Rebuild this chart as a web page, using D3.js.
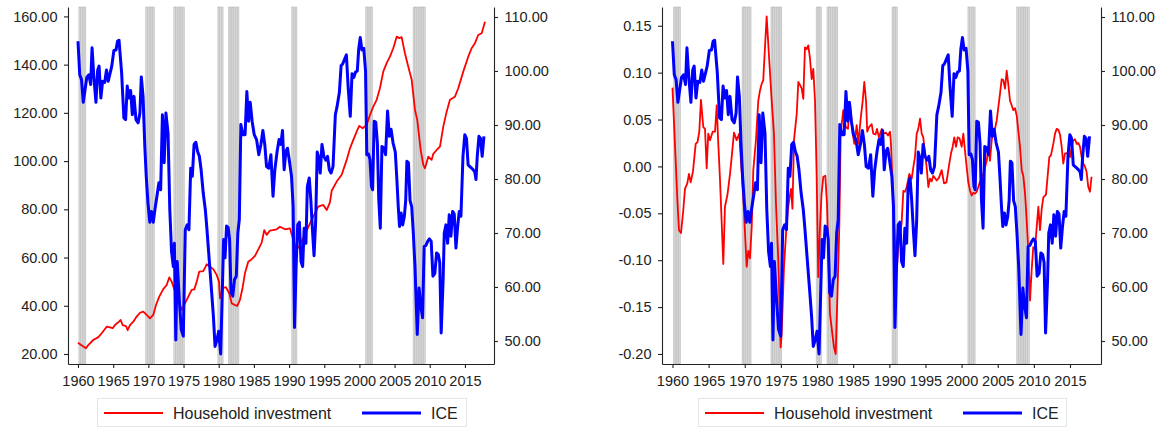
<!DOCTYPE html>
<html>
<head>
<meta charset="utf-8">
<title>Household investment and ICE</title>
<script src="https://cdn.jsdelivr.net/npm/d3@7"></script>
<style>
  html, body { margin: 0; padding: 0; background: #fff; }
  svg { display: block; }
  text { font-family: "Liberation Sans", Arial, Helvetica, sans-serif; fill: #222; }
</style>
</head>
<body>
<svg id="chart" width="1166" height="428"></svg>
<script>
// ---- data -------------------------------------------------------------

// Index of consumer expectations (right axis of both panels): [year, value]
const ice = [
  [1960.00,105.5],[1960.25,99.3],[1960.50,98.4],[1960.75,94.2],[1961.00,96.5],[1961.25,98.8],
  [1961.55,99.3],[1961.80,97.5],[1962.00,104.3],[1962.25,99.0],[1962.55,94.2],[1962.80,100.2],
  [1963.00,100.9],[1963.25,95.0],[1963.50,98.1],[1963.80,97.9],[1964.05,100.2],[1964.30,98.1],
  [1964.55,99.5],[1964.80,100.9],[1965.10,103.8],[1965.40,103.9],[1965.62,105.5],[1965.83,105.7],
  [1966.20,99.7],[1966.52,91.3],[1966.77,91.0],[1967.00,97.2],[1967.25,95.0],[1967.48,96.4],
  [1967.72,91.9],[1967.96,95.3],[1968.24,91.0],[1968.55,90.4],[1968.80,92.2],[1969.00,98.9],
  [1969.25,95.3],[1969.50,86.0],[1969.70,80.5],[1969.95,75.5],[1970.20,72.0],[1970.45,74.0],
  [1970.70,72.0],[1970.95,74.5],[1971.25,77.1],[1971.50,79.3],[1971.75,78.0],[1972.00,91.9],
  [1972.25,83.0],[1972.50,92.2],[1972.80,88.5],[1973.05,74.3],[1973.30,66.5],[1973.55,63.8],
  [1973.70,68.1],[1973.90,50.2],[1974.10,64.7],[1974.40,57.6],[1974.68,52.1],[1974.97,50.9],
  [1975.25,70.6],[1975.52,71.5],[1975.77,70.6],[1976.02,82.0],[1976.25,80.5],[1976.50,86.4],
  [1976.75,86.8],[1977.00,85.1],[1977.25,84.2],[1977.50,81.7],[1977.80,77.4],[1978.10,74.3],
  [1978.30,71.2],[1978.70,64.2],[1979.00,59.0],[1979.25,54.5],[1979.48,49.0],[1979.75,50.2],
  [1980.00,51.8],[1980.28,47.6],[1980.48,57.6],[1980.70,68.8],[1980.90,65.4],[1981.12,71.3],
  [1981.35,71.0],[1981.55,68.8],[1981.75,59.0],[1982.00,58.3],[1982.25,61.4],[1982.50,62.0],
  [1982.72,70.0],[1982.93,72.5],[1983.15,90.1],[1983.45,88.2],[1983.75,88.2],[1984.00,96.2],
  [1984.25,90.7],[1984.48,94.2],[1984.75,90.7],[1985.05,88.2],[1985.38,87.3],[1985.70,84.5],
  [1986.00,86.4],[1986.28,89.0],[1986.55,86.4],[1986.80,82.3],[1987.12,82.0],[1987.42,84.5],
  [1987.72,76.8],[1987.98,81.7],[1988.30,85.1],[1988.58,87.3],[1988.83,86.4],[1989.07,89.0],
  [1989.30,81.7],[1989.55,85.1],[1989.78,85.7],[1990.02,83.6],[1990.35,80.5],[1990.58,74.9],
  [1990.78,52.5],[1991.00,63.8],[1991.23,71.5],[1991.47,72.0],[1991.70,64.7],[1991.93,63.8],
  [1992.15,70.9],[1992.40,68.1],[1992.60,78.6],[1992.87,80.2],[1993.10,76.0],[1993.35,70.0],
  [1993.55,65.8],[1993.78,72.0],[1994.00,85.0],[1994.20,84.0],[1994.43,81.1],[1994.68,86.4],
  [1994.95,84.2],[1995.22,83.5],[1995.47,84.2],[1995.72,81.7],[1995.97,81.1],[1996.25,82.3],
  [1996.58,91.9],[1996.82,93.4],[1997.15,96.0],[1997.40,101.0],[1997.62,101.3],[1997.90,102.2],
  [1998.15,103.0],[1998.40,97.0],[1998.70,91.6],[1998.95,99.5],[1999.20,98.8],[1999.45,99.8],
  [1999.70,100.0],[1999.90,104.1],[2000.12,106.2],[2000.35,103.9],[2000.62,104.2],[2000.87,100.0],
  [2001.05,84.5],[2001.30,84.6],[2001.50,83.6],[2001.72,78.6],[2001.88,78.0],[2002.10,90.7],
  [2002.33,90.5],[2002.55,86.7],[2002.75,76.2],[2002.97,70.9],[2003.20,86.0],[2003.45,85.8],
  [2003.72,84.5],[2004.00,92.6],[2004.25,87.9],[2004.50,89.2],[2004.78,86.7],[2005.10,85.0],
  [2005.32,80.0],[2005.52,74.9],[2005.70,71.2],[2005.93,73.7],[2006.15,71.5],[2006.38,73.0],
  [2006.58,76.0],[2006.75,83.3],[2006.97,83.0],[2007.20,76.0],[2007.43,74.9],[2007.66,70.0],
  [2007.90,63.8],[2008.22,51.2],[2008.48,59.8],[2008.73,56.4],[2008.98,54.3],[2009.20,67.5],
  [2009.45,67.7],[2009.72,68.5],[2009.95,68.9],[2010.20,68.5],[2010.45,62.0],[2010.72,62.5],
  [2010.97,66.3],[2011.22,66.0],[2011.42,64.5],[2011.62,51.5],[2011.90,61.4],[2012.06,70.0],
  [2012.30,71.5],[2012.54,68.1],[2012.77,73.4],[2013.01,69.4],[2013.25,74.0],[2013.48,73.5],
  [2013.72,67.2],[2013.95,71.0],[2014.19,74.0],[2014.43,73.1],[2014.72,84.2],[2014.98,88.2],
  [2015.22,87.5],[2015.45,82.6],[2015.70,82.3],[2015.95,82.0],[2016.18,81.7],[2016.40,81.3],
  [2016.57,79.9],[2016.75,84.2],[2016.99,87.9],[2017.22,87.5],[2017.45,84.2],[2017.70,87.9]
];

// Household investment, level (left axis, left panel): [year, value]
const householdLevel = [
  [1960.00,24.7],[1960.55,23.5],[1961.14,22.4],[1961.46,23.7],[1962.17,25.8],[1962.89,27.0],
  [1963.37,28.6],[1964.08,31.3],[1964.55,31.0],[1964.93,30.7],[1965.26,32.0],[1965.83,33.4],
  [1966.07,34.1],[1966.35,32.0],[1966.82,31.6],[1967.06,29.9],[1967.39,32.0],[1967.86,33.4],
  [1968.34,35.5],[1968.81,37.1],[1969.28,37.6],[1969.76,36.2],[1970.23,34.8],[1970.70,36.2],
  [1971.09,40.3],[1971.55,43.8],[1972.12,46.9],[1972.61,48.6],[1972.98,51.8],[1973.32,50.0],
  [1973.64,47.3],[1974.21,42.5],[1974.74,38.3],[1975.20,41.0],[1975.68,43.8],[1976.16,46.6],
  [1976.53,46.8],[1976.87,50.0],[1977.24,54.2],[1977.81,54.4],[1978.29,57.2],[1978.76,56.2],
  [1979.23,55.2],[1979.71,52.8],[1980.04,50.0],[1980.18,43.1],[1980.57,47.3],[1981.03,47.7],
  [1981.50,45.2],[1981.85,41.0],[1982.31,40.3],[1982.64,40.0],[1983.02,42.4],[1983.41,47.7],
  [1983.73,53.5],[1984.20,58.3],[1984.69,59.3],[1985.16,60.7],[1985.63,63.4],[1986.11,66.2],
  [1986.48,71.4],[1986.82,69.4],[1987.29,71.2],[1988.24,71.7],[1988.71,72.8],[1989.42,71.7],
  [1990.13,72.1],[1990.60,67.3],[1991.08,63.2],[1991.55,65.2],[1992.97,74.2],[1994.15,81.1],
  [1994.86,81.8],[1995.35,79.7],[1995.81,82.9],[1996.06,87.7],[1996.77,91.5],[1997.48,94.3],
  [1998.19,100.5],[1998.66,105.3],[1999.13,108.8],[1999.61,112.2],[1999.98,114.6],[2000.46,113.6],
  [2001.03,115.0],[2001.50,119.1],[2001.97,122.6],[2002.45,125.4],[2002.92,130.2],[2003.39,137.1],
  [2003.87,140.6],[2004.34,143.3],[2004.81,146.8],[2005.30,151.6],[2005.67,151.0],[2006.00,151.4],
  [2006.47,144.7],[2006.94,139.2],[2007.43,133.7],[2007.90,121.2],[2008.22,117.1],[2008.71,104.6],
  [2009.08,98.4],[2009.32,97.0],[2009.79,101.8],[2010.27,100.5],[2010.50,103.0],[2010.98,104.6],
  [2011.45,106.0],[2011.92,114.3],[2012.40,120.5],[2012.87,125.4],[2013.58,126.7],[2014.05,130.2],
  [2014.76,137.1],[2015.47,143.3],[2015.95,146.8],[2016.42,148.9],[2016.89,152.3],[2017.38,153.0],
  [2017.85,157.8]
];

// Household investment, cyclical component (left axis, right panel): [year, value]
const householdCycle = [
  [1960.00,0.084],[1960.66,-0.033],[1960.90,-0.068],[1961.18,-0.071],[1961.49,-0.047],[1961.73,-0.024],
  [1962.05,-0.018],[1962.28,-0.008],[1962.52,-0.017],[1962.84,-0.005],[1963.21,0.024],[1963.46,0.026],
  [1963.71,0.037],[1963.94,0.071],[1964.26,0.042],[1964.50,0.040],[1964.73,-0.002],[1964.95,0.035],
  [1965.19,0.028],[1965.56,0.037],[1965.88,0.037],[1966.12,0.065],[1966.34,0.024],[1966.57,-0.013],
  [1967.03,-0.104],[1967.26,-0.043],[1967.61,-0.030],[1967.96,-0.008],[1968.19,0.010],[1968.51,0.036],
  [1968.88,0.028],[1969.24,0.035],[1969.52,0.000],[1969.80,-0.033],[1970.13,-0.086],[1970.27,-0.107],
  [1970.49,-0.090],[1970.72,-0.098],[1970.96,-0.065],[1971.18,-0.004],[1971.55,0.028],[1971.87,0.070],
  [1972.11,0.081],[1972.34,0.088],[1972.56,0.092],[1972.80,0.127],[1973.03,0.160],[1973.39,0.113],
  [1973.73,0.070],[1974.04,0.035],[1974.32,-0.040],[1974.64,-0.100],[1974.97,-0.193],[1975.11,-0.178],
  [1975.43,-0.107],[1975.71,-0.072],[1975.98,-0.045],[1976.26,-0.030],[1976.40,-0.024],[1976.60,-0.045],
  [1976.81,0.028],[1977.19,0.056],[1977.41,0.090],[1977.64,0.087],[1977.88,0.083],[1978.10,0.072],
  [1978.33,0.127],[1978.57,0.125],[1978.79,0.129],[1979.03,0.115],[1979.26,0.093],[1979.48,0.104],
  [1979.72,0.070],[1979.95,-0.010],[1980.17,-0.118],[1980.41,-0.065],[1980.62,-0.030],[1980.87,-0.011],
  [1981.14,-0.010],[1981.38,-0.040],[1981.79,-0.157],[1982.11,-0.178],[1982.35,-0.193],[1982.58,-0.200],
  [1982.80,-0.143],[1983.08,-0.065],[1983.27,0.035],[1983.63,0.060],[1983.97,0.042],[1984.28,0.040],
  [1984.56,0.067],[1984.93,0.035],[1985.16,0.024],[1985.49,0.044],[1985.71,0.024],[1986.04,0.051],
  [1986.32,0.070],[1986.54,0.090],[1986.78,0.070],[1986.95,0.037],[1987.19,0.042],[1987.56,0.045],
  [1987.78,0.035],[1988.09,0.034],[1988.30,0.040],[1988.57,0.031],[1988.95,0.040],[1989.20,0.035],
  [1989.54,0.036],[1989.82,0.033],[1990.10,0.037],[1990.23,0.024],[1990.51,-0.030],[1990.79,-0.082],
  [1991.02,-0.111],[1991.24,-0.086],[1991.48,-0.075],[1991.71,-0.060],[1991.94,-0.026],[1992.17,-0.027],
  [1992.41,-0.022],[1992.77,-0.008],[1993.10,-0.013],[1993.32,-0.001],[1993.55,0.010],[1993.79,0.035],
  [1994.01,0.040],[1994.25,0.051],[1994.48,0.035],[1994.70,0.031],[1994.94,0.014],[1995.17,-0.001],
  [1995.40,-0.022],[1995.63,-0.013],[1995.86,-0.016],[1996.09,-0.010],[1996.56,-0.015],[1996.88,-0.012],
  [1997.25,-0.004],[1997.57,-0.018],[1997.91,-0.017],[1998.30,0.003],[1998.54,0.014],[1998.77,0.021],
  [1998.99,0.031],[1999.23,0.021],[1999.46,0.031],[1999.71,0.030],[2000.02,0.021],[2000.24,0.035],
  [2000.47,0.017],[2000.71,-0.001],[2000.93,-0.017],[2001.17,-0.026],[2001.40,-0.031],[2001.62,-0.028],
  [2001.86,-0.029],[2002.09,-0.027],[2002.31,-0.022],[2002.55,-0.016],[2002.78,-0.018],[2003.00,-0.008],
  [2003.24,-0.001],[2003.48,0.006],[2003.70,0.021],[2003.93,0.006],[2004.17,0.028],[2004.39,0.038],
  [2004.62,0.040],[2004.86,0.049],[2005.08,0.063],[2005.32,0.078],[2005.55,0.093],[2005.77,0.092],
  [2006.01,0.083],[2006.24,0.102],[2006.46,0.088],[2006.70,0.070],[2006.94,0.065],[2007.16,0.060],
  [2007.39,0.062],[2007.63,0.054],[2007.85,0.038],[2008.08,0.021],[2008.32,-0.004],[2008.54,-0.010],
  [2008.78,-0.029],[2009.01,-0.058],[2009.23,-0.090],[2009.47,-0.143],[2009.70,-0.110],[2009.92,-0.086],
  [2010.16,-0.088],[2010.39,-0.065],[2010.62,-0.043],[2010.85,-0.068],[2011.09,-0.045],[2011.31,-0.033],
  [2011.68,-0.030],[2012.14,0.010],[2012.37,0.012],[2012.69,0.024],[2012.93,0.035],[2013.16,0.040],
  [2013.39,0.039],[2013.62,0.034],[2013.85,0.021],[2014.07,0.003],[2014.31,0.014],[2014.54,0.014],
  [2014.76,0.015],[2015.00,0.010],[2015.24,0.021],[2015.46,0.028],[2015.69,0.029],[2015.93,0.024],
  [2016.15,0.025],[2016.38,0.021],[2016.61,0.010],[2016.84,0.003],[2017.07,0.000],[2017.30,-0.006],
  [2017.53,-0.022],[2017.76,-0.027],[2017.98,-0.011]
];

// NBER recessions, first and last quarter (quarter dates as decimal years)
const recessions = [
  [1960.25, 1961.00], [1969.75, 1970.75], [1973.75, 1975.00], [1980.00, 1980.50],
  [1981.50, 1982.75], [1990.50, 1991.00], [2001.00, 2001.75], [2007.75, 2009.25]
];

// Tick labels
const yearTicks = [1960, 1965, 1970, 1975, 1980, 1985, 1990, 1995, 2000, 2005, 2010, 2015];
const levelTicks = [20, 40, 60, 80, 100, 120, 140, 160];
const cycleTicks = [-0.20, -0.15, -0.10, -0.05, 0.00, 0.05, 0.10, 0.15];
const iceTicks = [50, 60, 70, 80, 90, 100, 110];

const seriesNames = ["Household investment", "ICE"];

// ---- layout -----------------------------------------------------------

const RED = "#ff0000", BLUE = "#0000ff", AXIS = "#222";
const TOP = 7, BOTTOM = 364;

const panels = [
  { left: 68,  right: 494,  xDomain: [1958.58, 2019.13], yDomain: [15.85, 163.9],
    yTicks: levelTicks, red: householdLevel, legend: [97, 466] },
  { left: 662, right: 1101, xDomain: [1958.55, 2019.29], yDomain: [-0.2107, 0.170],
    yTicks: cycleTicks, red: householdCycle, legend: [698, 1066] }
];

const svg = d3.select("#chart");
const fmt2 = d => d.toFixed(2);

panels.forEach(p => {
  const g = svg.append("g");
  const x = d3.scaleLinear().domain(p.xDomain).range([p.left, p.right]);
  const yL = d3.scaleLinear().domain(p.yDomain).range([BOTTOM, TOP]);
  const yR = d3.scaleLinear().domain([45.74, 111.85]).range([BOTTOM, TOP]);

  // recession shading, one bar per quarter
  const quarters = recessions.flatMap(([a, b]) => d3.range(a, b + 0.01, 0.25));
  g.append("g").selectAll("rect").data(quarters).join("rect")
    .attr("x", d => x(d - 0.125))
    .attr("width", d => x(d + 0.125) - x(d - 0.125))
    .attr("y", TOP)
    .attr("height", BOTTOM - TOP)
    .attr("fill", "#d6d6d6")
    .attr("stroke", "#bcbcbc")
    .attr("stroke-width", 0.5);

  // series
  const redLine = d3.line().x(d => x(d[0])).y(d => yL(d[1]));
  const blueLine = d3.line().x(d => x(d[0])).y(d => yR(d[1]));
  g.append("path").datum(p.red).attr("d", redLine)
    .attr("fill", "none").attr("stroke", RED).attr("stroke-width", 1.8)
    .attr("stroke-linejoin", "round");
  g.append("path").datum(ice).attr("d", blueLine)
    .attr("fill", "none").attr("stroke", BLUE).attr("stroke-width", 3)
    .attr("stroke-linejoin", "round");

  // axes
  const axX = g.append("g").attr("transform", `translate(0,${BOTTOM})`)
    .call(d3.axisBottom(x).tickValues(yearTicks).tickFormat(d3.format("d"))
      .tickSize(4).tickSizeOuter(0).tickPadding(7.5));
  const axL = g.append("g").attr("transform", `translate(${p.left},0)`)
    .call(d3.axisLeft(yL).tickValues(p.yTicks).tickFormat(fmt2)
      .tickSize(4).tickSizeOuter(0).tickPadding(6.5));
  const axR = g.append("g").attr("transform", `translate(${p.right},0)`)
    .call(d3.axisRight(yR).tickValues(iceTicks).tickFormat(fmt2)
      .tickSize(4).tickSizeOuter(0).tickPadding(6.5));
  [axX, axL, axR].forEach(a => {
    a.selectAll("path, line").attr("stroke", AXIS).attr("stroke-width", 1.1);
    a.selectAll("text").attr("font-size", 14.5).attr("fill", AXIS)
      .attr("font-family", "'Liberation Sans', Arial, sans-serif");
  });

  // legend
  const [lx0, lx1] = p.legend;
  const lg = g.append("g");
  lg.append("rect").attr("x", lx0 + 0.5).attr("y", 398.5)
    .attr("width", lx1 - lx0).attr("height", 28)
    .attr("fill", "#fff").attr("stroke", "#e2e8ea").attr("stroke-width", 1);
  const items = [
    { name: seriesNames[0], color: RED, w: 1.8, x: lx0 + 7 },
    { name: seriesNames[1], color: BLUE, w: 3.2, x: lx0 + 265 }
  ];
  items.forEach(it => {
    lg.append("line").attr("x1", it.x).attr("x2", it.x + 59)
      .attr("y1", 413).attr("y2", 413)
      .attr("stroke", it.color).attr("stroke-width", it.w);
    lg.append("text").attr("x", it.x + 69).attr("y", 418.8)
      .attr("font-size", 16).text(it.name);
  });
});
</script>
</body>
</html>
